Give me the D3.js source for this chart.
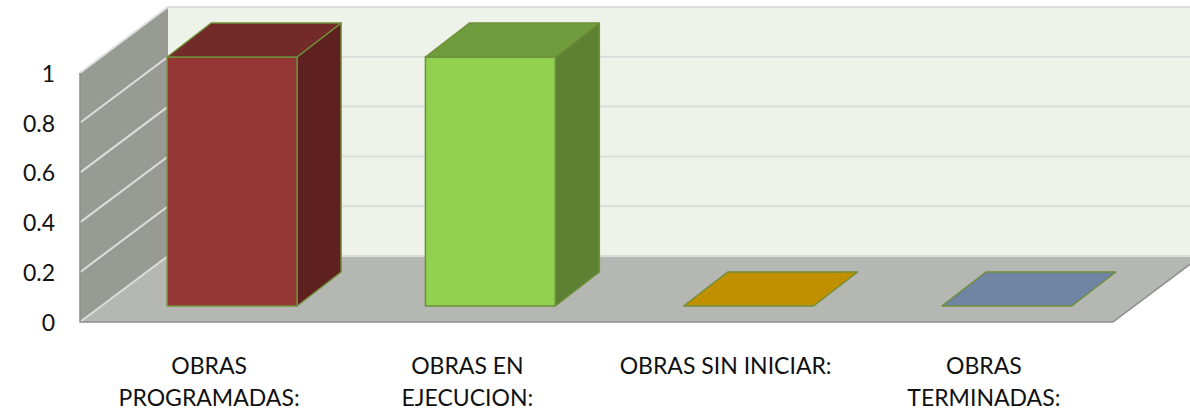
<!DOCTYPE html>
<html>
<head>
<meta charset="utf-8">
<script src="https://cdn.jsdelivr.net/npm/d3@7"></script>
<style>
  html, body { margin: 0; padding: 0; background: #fff; }
  svg { display: block; }
  text { font-family: Lato, "Open Sans", sans-serif; fill: #111; }
</style>
</head>
<body>
<div id="chart"></div>
<script>
// chart values
const categories = ["OBRAS PROGRAMADAS:", "OBRAS EN EJECUCION:", "OBRAS SIN INICIAR:", "OBRAS TERMINADAS:"];
const labelLines = [["OBRAS", "PROGRAMADAS:"], ["OBRAS EN", "EJECUCION:"], ["OBRAS SIN INICIAR:"], ["OBRAS", "TERMINADAS:"]];
const values = [1, 1, 0, 0];
const yTicks = [0, 0.2, 0.4, 0.6, 0.8, 1];

const frontColors = ["#953735", "#92d050", "#c09000", "#7084a3"];
const topColors = ["#722b28", "#6f9c3c", "#c09000", "#7084a3"];
const sideColors = ["#5e2120", "#5d8133", "#c09000", "#7084a3"];

const width = 1190, height = 411;
// depth of the whole 3d box, and of a bar inside it
const depthX = 88, depthY = 66;
const barDepthX = 44, barDepthY = 34;
const barShiftX = 23, barShiftY = 16;

const svg = d3.select("#chart").append("svg")
    .attr("width", width)
    .attr("height", height);

const x = d3.scaleBand().domain(categories).range([80, 1113]).paddingInner(0.497).paddingOuter(0.2485);
const y = d3.scaleLinear().domain([0, 1]).range([322, 73]);

const poly = pts => pts.map(p => p.join(",")).join(" ");
const x0 = x.range()[0], x1 = x.range()[1], y0 = y(0), y1 = y(1);

// back wall
svg.append("polygon")
    .attr("points", poly([[x0 + depthX, y1 - depthY], [x1 + depthX, y1 - depthY], [x1 + depthX, y0 - depthY], [x0 + depthX, y0 - depthY]]))
    .attr("fill", "#eef3ea");

// left wall
svg.append("polygon")
    .attr("points", poly([[x0, y1], [x0 + depthX, y1 - depthY], [x0 + depthX, y0 - depthY], [x0, y0]]))
    .attr("fill", "#989a94");

// floor
svg.append("polygon")
    .attr("points", poly([[x0, y0], [x1, y0], [x1 + depthX, y0 - depthY], [x0 + depthX, y0 - depthY]]))
    .attr("fill", "#b5b7b2");

// gridlines on both walls
yTicks.forEach(t => {
    svg.append("path")
        .attr("fill", "none")
        .attr("stroke", "#dcdddc")
        .attr("stroke-width", 2)
        .attr("d", d3.line()([[x0, y(t)], [x0 + depthX, y(t) - depthY], [x1 + depthX, y(t) - depthY]]));
});

// darker edge along the front and the right of the floor
svg.append("path")
    .attr("fill", "none")
    .attr("stroke", "#8c8e8a")
    .attr("stroke-width", 1.5)
    .attr("d", d3.line()([[x0, y1], [x0, y0], [x1, y0], [x1 + depthX, y0 - depthY]]));

// bars
const bars = svg.selectAll(".bar")
    .data(categories.map((c, i) => ({c: c, v: values[i], i: i})))
    .enter()
    .append("g")
    .attr("class", "bar")
    .attr("stroke", "#6f8f3a")
    .attr("stroke-width", 1.5)
    .attr("stroke-linejoin", "round");

const left = d => x(d.c) + barShiftX;
const right = d => left(d) + x.bandwidth();
const base = () => y(0) - barShiftY;
const tip = d => y(d.v) - barShiftY;

bars.filter(d => d.v > 0).append("polygon")
    .attr("fill", d => sideColors[d.i])
    .attr("points", d => poly([[right(d), tip(d)], [right(d) + barDepthX, tip(d) - barDepthY], [right(d) + barDepthX, base() - barDepthY], [right(d), base()]]));

bars.filter(d => d.v > 0).append("rect")
    .attr("fill", d => frontColors[d.i])
    .attr("x", left)
    .attr("y", tip)
    .attr("width", x.bandwidth())
    .attr("height", d => base() - tip(d));

bars.append("polygon")
    .attr("fill", d => topColors[d.i])
    .attr("points", d => poly([[left(d), tip(d)], [right(d), tip(d)], [right(d) + barDepthX, tip(d) - barDepthY], [left(d) + barDepthX, tip(d) - barDepthY]]));

// y axis
const yAxis = d3.axisLeft(y).tickValues(yTicks).tickSize(0).tickPadding(25).tickFormat(d => d);
svg.append("g")
    .attr("transform", `translate(${x0},1)`)
    .call(yAxis)
    .call(g => g.select(".domain").remove())
    .selectAll("text")
    .style("font-family", "Lato")
    .style("font-size", "23px")
    .attr("fill", "#111");

// category labels
const labels = svg.selectAll(".cat")
    .data(categories)
    .enter()
    .append("text")
    .attr("class", "cat")
    .attr("text-anchor", "middle")
    .style("font-size", "23px");

labels.each(function(d, i) {
    labelLines[i].forEach((line, k) => {
        d3.select(this).append("tspan")
            .attr("x", x(d) + x.bandwidth() / 2)
            .attr("y", 374 + k * 32)
            .text(line);
    });
});
</script>
</body>
</html>
